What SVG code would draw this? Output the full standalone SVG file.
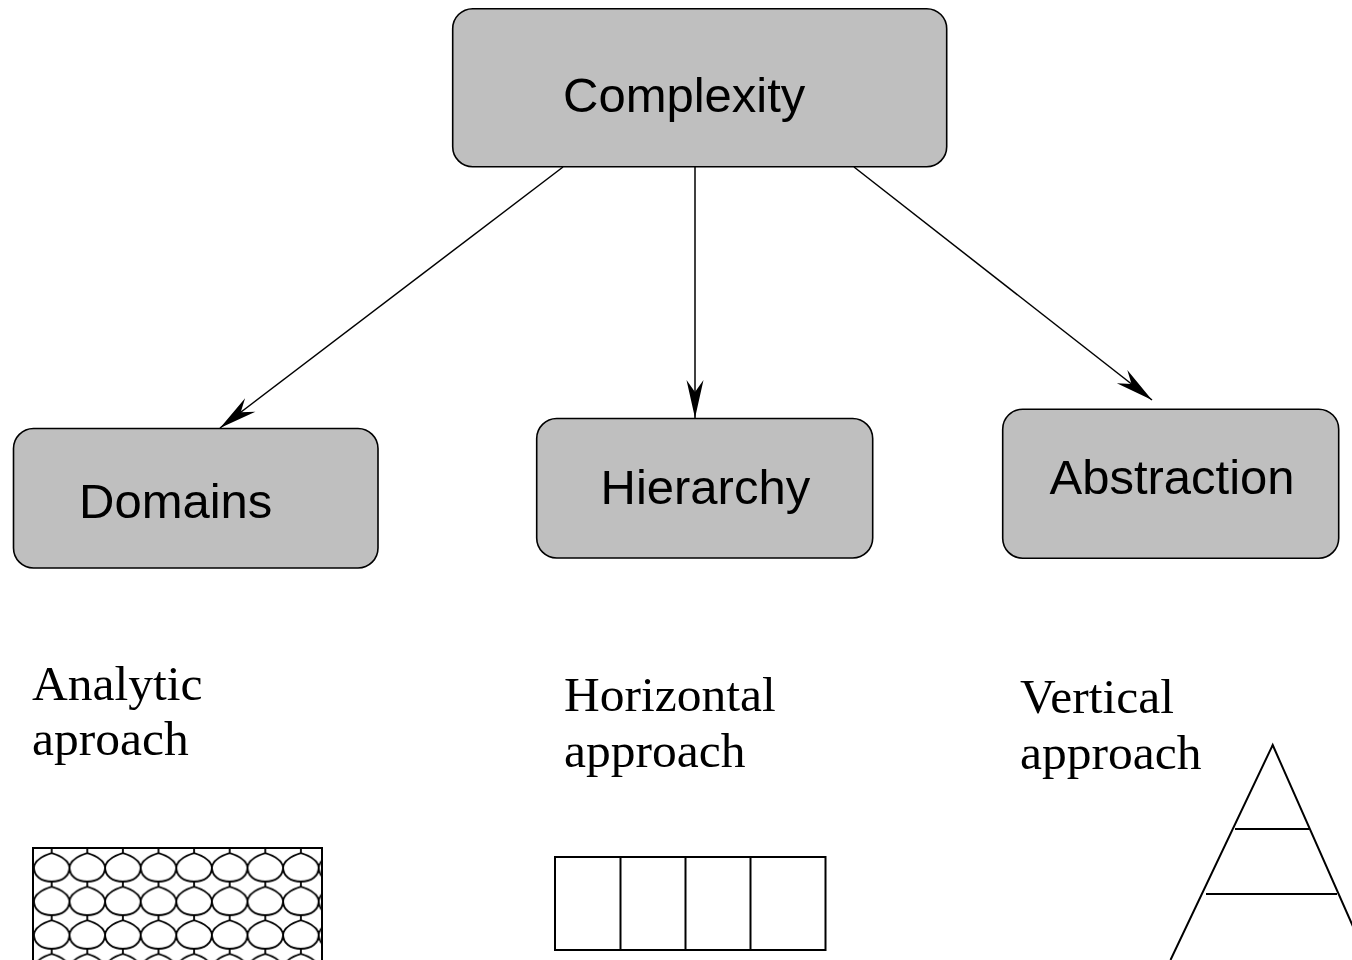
<svg xmlns="http://www.w3.org/2000/svg" xmlns:xlink="http://www.w3.org/1999/xlink" width="1352" height="960" viewBox="0 0 1352 960">
<style>
.box{fill:#bfbfbf;stroke:#000;stroke-width:1.6}
.lbl{font-family:"Liberation Sans",Arial,sans-serif;font-size:49px;fill:#000}
.ser{font-family:"Liberation Serif","Times New Roman",serif;font-size:49.5px;fill:#000}
.conn{stroke:#000;stroke-width:1.5;fill:none}
.shape{fill:none;stroke:#000;stroke-width:2}
</style>
<defs>
<marker id="arr" markerUnits="userSpaceOnUse" markerWidth="44" markerHeight="22" viewBox="-40 -11 44 22" refX="0" refY="0" orient="auto">
<path d="M0,0 L-38,-8.5 L-26,0 L-38,8.5 Z" fill="#000"/>
</marker>
<path id="cell" d="M17.8,0 V5 C13,6.5 1,11 0,19.3 C0,28 7,33.6 17.8,33.6 C28.6,33.6 35.6,28 35.6,19.3 C34.6,11 22.6,6.5 17.8,5" fill="none" stroke="#000" stroke-width="1.8"/>
<pattern id="scales" patternUnits="userSpaceOnUse" x="33.9" y="848" width="35.6" height="33.6">
<rect width="35.6" height="33.6" fill="#fff"/>
<use xlink:href="#cell"/>
<use xlink:href="#cell" x="-35.6"/>
<use xlink:href="#cell" x="35.6"/>
<use xlink:href="#cell" y="-33.6"/>
<use xlink:href="#cell" y="33.6"/>
</pattern>
</defs>
<rect width="1352" height="960" fill="#fff"/>
<g id="connectors">
<line class="conn" x1="563" y1="167" x2="220" y2="428" marker-end="url(#arr)"/>
<line class="conn" x1="695" y1="167" x2="695" y2="418" marker-end="url(#arr)"/>
<line class="conn" x1="854" y1="167" x2="1152" y2="400" marker-end="url(#arr)"/>
</g>
<g id="complexity">
<rect class="box" x="452.7" y="8.7" width="494" height="158" rx="20"/>
<text class="lbl" x="563" y="111.7">Complexity</text>
</g>
<g id="domains">
<rect class="box" x="13.5" y="428.5" width="364.5" height="139.5" rx="20"/>
<text class="lbl" x="79" y="518">Domains</text>
</g>
<g id="hierarchy">
<rect class="box" x="536.7" y="418.5" width="336" height="139.5" rx="20"/>
<text class="lbl" x="600.5" y="503.5">Hierarchy</text>
</g>
<g id="abstraction">
<rect class="box" x="1002.7" y="409.2" width="336" height="149" rx="20"/>
<text class="lbl" x="1049.5" y="493.5">Abstraction</text>
</g>
<g id="analytic">
<text class="ser" x="32" y="700">Analytic</text>
<text class="ser" x="32" y="755">aproach</text>
<rect x="33" y="848" width="289" height="120" fill="url(#scales)" stroke="#000" stroke-width="2"/>
</g>
<g id="horizontal">
<text class="ser" x="564" y="711">Horizontal</text>
<text class="ser" x="564" y="767">approach</text>
<rect class="shape" x="555" y="857" width="270.5" height="93"/>
<line class="shape" x1="620.5" y1="857" x2="620.5" y2="950"/>
<line class="shape" x1="685.5" y1="857" x2="685.5" y2="950"/>
<line class="shape" x1="750.5" y1="857" x2="750.5" y2="950"/>
</g>
<g id="vertical">
<text class="ser" x="1020" y="713">Vertical</text>
<text class="ser" x="1020" y="769">approach</text>
<path class="shape" d="M1170.5,960 L1272.7,745 L1370,965"/>
<line class="shape" x1="1235" y1="829" x2="1309" y2="829"/>
<line class="shape" x1="1206" y1="894" x2="1337" y2="894"/>
</g>
</svg>
